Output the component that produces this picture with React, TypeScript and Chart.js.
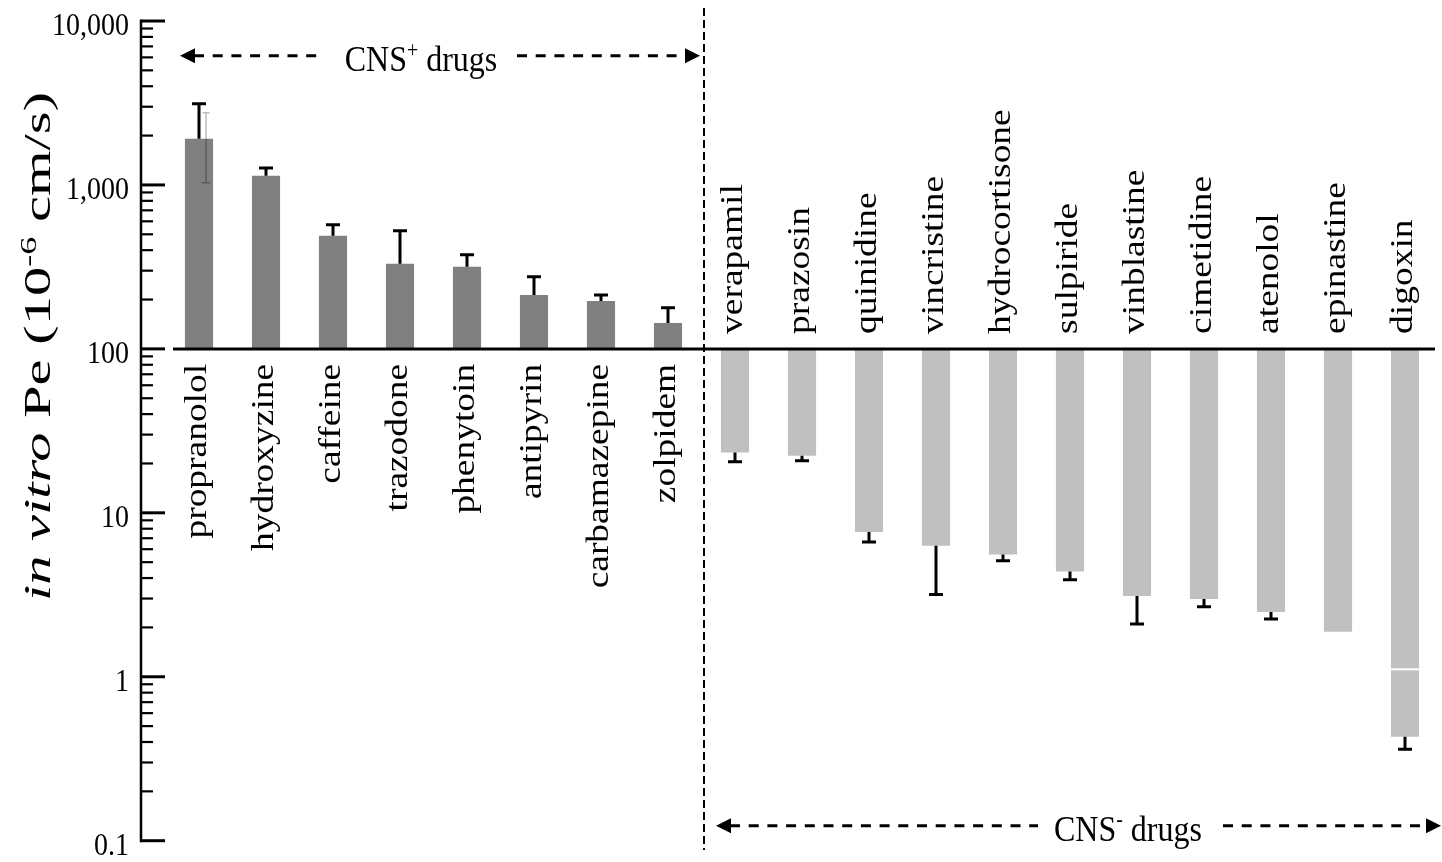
import { useEffect, useRef } from "react";
import { Chart, registerables } from "chart.js";

Chart.register(...registerables);

// Drugs, ordered CNS+ first (8) then CNS-
const drugs = [
  "propranolol",
  "hydroxyzine",
  "caffeine",
  "trazodone",
  "phenytoin",
  "antipyrin",
  "carbamazepine",
  "zolpidem",
  "verapamil",
  "prazosin",
  "quinidine",
  "vincristine",
  "hydrocortisone",
  "sulpiride",
  "vinblastine",
  "cimetidine",
  "atenolol",
  "epinastine",
  "digoxin",
];
const cnsPositiveCount = 8;

// in vitro permeability Pe (10^-6 cm/s)
const permeability = [
  1910, 1137, 489, 330, 317, 213, 196, 144, 23.3, 22.3, 7.64, 6.3, 5.56, 4.38,
  3.11, 2.98, 2.48, 1.88, 0.431,
];
// end of each one-sided error bar (null = none)
const errorEnd: (number | null)[] = [
  3125, 1270, 571, 525, 375, 275, 213, 178, 20.5, 20.8, 6.64, 3.17, 5.1, 3.9,
  2.1, 2.67, 2.25, null, 0.361,
];
// second (two-sided) spread shown for propranolol
const propranololSpread = [1030, 2755];

const baselineValue = 100;
const yMin = 0.1;
const yMax = 10000;
const majorTicks = [0.1, 1, 10, 100, 1000, 10000];
const majorTickLabels = ["0.1", "1", "10", "100", "1,000", "10,000"];

const SERIF = '"Liberation Serif", "Times New Roman", serif';

type Seg = { t: string; italic?: boolean; sup?: boolean };

function fontFor(size: number, seg: Seg) {
  const s = seg.sup ? size * 0.62 : size;
  return `${seg.italic ? "italic " : ""}${s}px ${SERIF}`;
}

// draws mixed-style text; "stretch" lengthens the text along the screen's vertical direction
function drawRich(
  ctx: CanvasRenderingContext2D,
  segs: Seg[],
  x: number,
  y: number,
  size: number,
  align: "left" | "right" | "center",
  rotated: boolean,
  stretch: number,
  baselineShift: number
) {
  ctx.save();
  ctx.translate(x, y);
  if (rotated) {
    ctx.rotate(-Math.PI / 2);
    ctx.scale(stretch, 1);
  } else {
    ctx.scale(1, stretch);
  }
  ctx.textBaseline = "alphabetic";
  ctx.textAlign = "left";
  ctx.fillStyle = "#000";
  let total = 0;
  for (const s of segs) {
    ctx.font = fontFor(size, s);
    total += ctx.measureText(s.t).width;
  }
  let cx = align === "left" ? 0 : align === "right" ? -total : -total / 2;
  for (const s of segs) {
    ctx.font = fontFor(size, s);
    const dy = s.sup ? -size * 0.38 : 0;
    ctx.fillText(s.t, cx, baselineShift + dy);
    cx += ctx.measureText(s.t).width;
  }
  ctx.restore();
}

function arrowHead(
  ctx: CanvasRenderingContext2D,
  tipX: number,
  y: number,
  dir: 1 | -1
) {
  ctx.beginPath();
  ctx.moveTo(tipX, y);
  ctx.lineTo(tipX - dir * 15, y - 7.5);
  ctx.lineTo(tipX - dir * 15, y + 7.5);
  ctx.closePath();
  ctx.fill();
}

function dashed(
  ctx: CanvasRenderingContext2D,
  x1: number,
  y1: number,
  x2: number,
  y2: number,
  width: number,
  dash: number[]
) {
  ctx.save();
  ctx.setLineDash(dash);
  ctx.lineWidth = width;
  ctx.strokeStyle = "#000";
  ctx.beginPath();
  ctx.moveTo(x1, y1);
  ctx.lineTo(x2, y2);
  ctx.stroke();
  ctx.restore();
}

const decorations = {
  id: "decorations",
  afterDatasetsDraw(chart: any) {
    const ctx: CanvasRenderingContext2D = chart.ctx;
    const xs = chart.scales.x;
    const ys = chart.scales.y;
    const yBase = ys.getPixelForValue(baselineValue);
    const meta = chart.getDatasetMeta(0);

    ctx.save();
    ctx.lineCap = "butt";

    // propranolol two-sided spread
    {
      const px = xs.getPixelForValue(0) + 7;
      const top = ys.getPixelForValue(propranololSpread[1]);
      const bot = ys.getPixelForValue(propranololSpread[0]);
      const barTop = ys.getPixelForValue(permeability[0]);
      ctx.lineWidth = 1.5;
      ctx.strokeStyle = "#bdbdbd";
      ctx.beginPath();
      ctx.moveTo(px, barTop);
      ctx.lineTo(px, top);
      ctx.moveTo(px - 3.5, top);
      ctx.lineTo(px + 3.5, top);
      ctx.stroke();
      ctx.strokeStyle = "#5c5c5c";
      ctx.beginPath();
      ctx.moveTo(px, barTop);
      ctx.lineTo(px, bot);
      ctx.moveTo(px - 4.5, bot);
      ctx.lineTo(px + 4.5, bot);
      ctx.stroke();
    }

    // one-sided error bars
    ctx.strokeStyle = "#000";
    ctx.lineWidth = 3;
    permeability.forEach((v, i) => {
      const e = errorEnd[i];
      if (e == null) return;
      const px = xs.getPixelForValue(i);
      const p1 = ys.getPixelForValue(v);
      const p2 = ys.getPixelForValue(e);
      ctx.beginPath();
      ctx.moveTo(px, p1);
      ctx.lineTo(px, p2);
      ctx.moveTo(px - 7, p2);
      ctx.lineTo(px + 7, p2);
      ctx.stroke();
    });

    // thin white split across the digoxin bar
    {
      const bar = meta.data[drugs.length - 1];
      const half = bar.width / 2;
      const py = ys.getPixelForValue(1.11);
      ctx.strokeStyle = "#ffffff";
      ctx.lineWidth = 2;
      ctx.beginPath();
      ctx.moveTo(bar.x - half, py);
      ctx.lineTo(bar.x + half, py);
      ctx.stroke();
    }

    // baseline at 100
    ctx.strokeStyle = "#000";
    ctx.lineWidth = 3;
    ctx.beginPath();
    ctx.moveTo(173, yBase);
    ctx.lineTo(1435, yBase);
    ctx.stroke();

    // y axis with inward ticks
    const axisX = 141;
    ctx.lineWidth = 2.5;
    ctx.beginPath();
    ctx.moveTo(axisX, ys.getPixelForValue(yMax) - 1.5);
    ctx.lineTo(axisX, ys.getPixelForValue(yMin) + 1.5);
    ctx.stroke();
    for (let k = 0; k < majorTicks.length; k++) {
      const m = majorTicks[k];
      const py = ys.getPixelForValue(m);
      ctx.lineWidth = 3;
      ctx.beginPath();
      ctx.moveTo(axisX, py);
      ctx.lineTo(axisX + 24, py);
      ctx.stroke();
      if (k < majorTicks.length - 1) {
        ctx.lineWidth = 2.2;
        for (let j = 2; j <= 9; j++) {
          const my = ys.getPixelForValue(m * j);
          ctx.beginPath();
          ctx.moveTo(axisX, my);
          ctx.lineTo(axisX + 12, my);
          ctx.stroke();
        }
      }
      drawRich(ctx, [{ t: majorTickLabels[k] }], 129, py + 14, 28, "right", false, 1.1, 0);
    }

    // drug names next to the baseline
    drugs.forEach((name, i) => {
      const px = xs.getPixelForValue(i);
      if (i < cnsPositiveCount) {
        drawRich(ctx, [{ t: name }], px, yBase + 15, 32, "right", true, 1.17, 32 * 0.233);
      } else {
        drawRich(ctx, [{ t: name }], px, yBase - 15, 32, "left", true, 1.17, 32 * 0.233);
      }
    });

    // y axis title
    drawRich(
      ctx,
      [
        { t: "in vitro", italic: true },
        { t: " Pe (10" },
        { t: "-6", sup: true },
        { t: " cm/s)" },
      ],
      41.5,
      346.5,
      38,
      "center",
      true,
      1.54,
      38 * 0.233
    );

    // divider between the two groups
    dashed(ctx, 704, 8, 704, 850, 2, [8, 4]);

    // CNS+ group marker
    ctx.fillStyle = "#000";
    const topY = 55.7;
    arrowHead(ctx, 180, topY, -1);
    arrowHead(ctx, 700, topY, 1);
    dashed(ctx, 194, topY, 322, topY, 3, [10, 8.7]);
    dashed(ctx, 517, topY, 686, topY, 3, [10, 8.7]);
    drawRich(
      ctx,
      [{ t: "CNS" }, { t: "+", sup: true }, { t: " drugs" }],
      421,
      70.5,
      32,
      "center",
      false,
      1.15,
      0
    );

    // CNS- group marker
    const botY = 825.7;
    arrowHead(ctx, 716, botY, -1);
    arrowHead(ctx, 1441, botY, 1);
    dashed(ctx, 730, botY, 1038, botY, 3, [10, 8.7]);
    dashed(ctx, 1223, botY, 1427, botY, 3, [10, 8.7]);
    drawRich(
      ctx,
      [{ t: "CNS" }, { t: "-", sup: true }, { t: " drugs" }],
      1128,
      840.5,
      32,
      "center",
      false,
      1.15,
      0
    );

    ctx.restore();
  },
};

export default function App() {
  const canvasRef = useRef<HTMLCanvasElement | null>(null);

  useEffect(() => {
    const canvas = canvasRef.current;
    if (!canvas) return;
    const chart = new Chart(canvas, {
      type: "bar",
      data: {
        labels: drugs,
        datasets: [
          {
            data: permeability.map((v) => [baselineValue, v]) as any,
            backgroundColor: permeability.map((_, i) =>
              i < cnsPositiveCount ? "#808080" : "#c0c0c0"
            ),
            borderWidth: 0,
            categoryPercentage: 1,
            barPercentage: 0.42,
          },
        ],
      },
      options: {
        responsive: false,
        animation: false,
        devicePixelRatio: 1,
        layout: { padding: { left: 165.5, right: 3.5, top: 21, bottom: 21.3 } },
        plugins: {
          legend: { display: false },
          title: { display: false },
          tooltip: { enabled: false },
        },
        scales: {
          x: { type: "category", display: false, offset: true, grid: { display: false } },
          y: { type: "logarithmic", display: false, min: yMin, max: yMax },
        },
      },
      plugins: [decorations],
    });
    return () => chart.destroy();
  }, []);

  return (
    <div style={{ position: "absolute", left: 0, top: 0, width: 1442, height: 862, background: "#fff" }}>
      <canvas ref={canvasRef} width={1442} height={862} style={{ display: "block" }} />
    </div>
  );
}
